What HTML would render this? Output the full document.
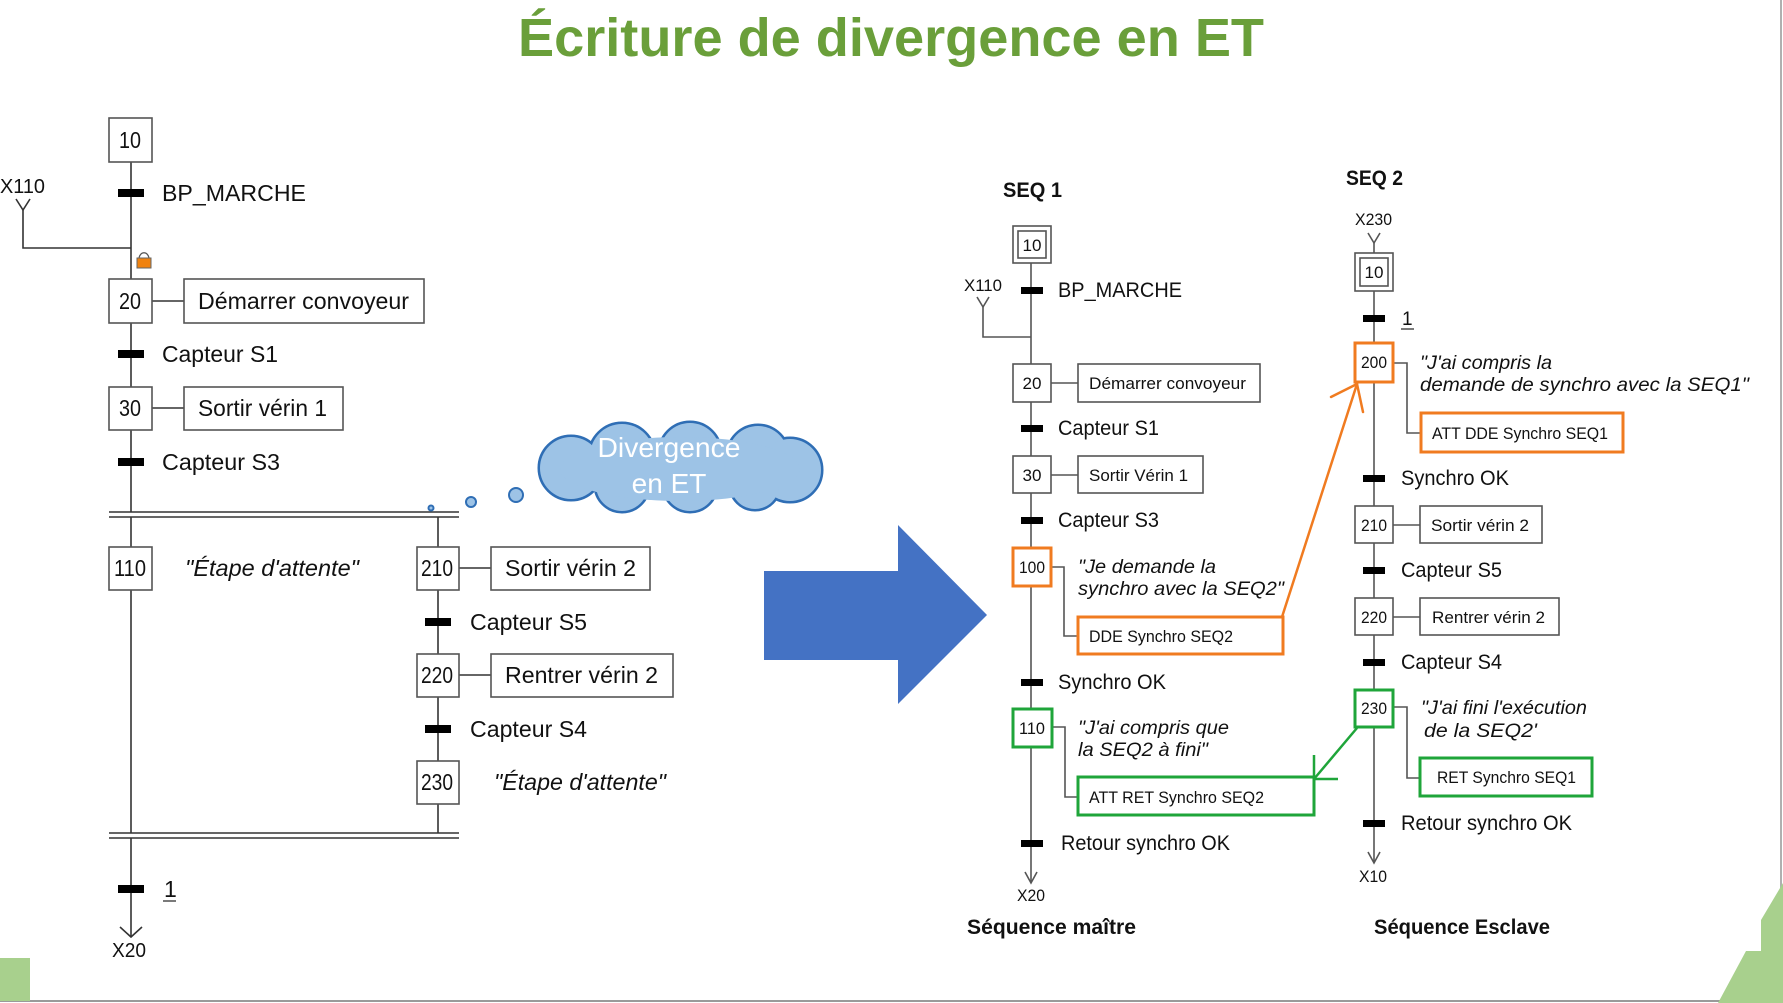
<!DOCTYPE html>
<html><head><meta charset="utf-8"><style>
html,body{margin:0;padding:0;background:#fff;}
svg{display:block;}
text{font-family:"Liberation Sans",Arial,sans-serif;fill:#111;}
.it{font-style:italic;}
.b{font-weight:bold;}
</style></head><body>
<svg width="1783" height="1003" viewBox="0 0 1783 1003" xmlns="http://www.w3.org/2000/svg">
<rect width="1783" height="1003" fill="#fff"/>
<!-- Title -->
<text x="891" y="56" font-size="54" class="b" text-anchor="middle" style="fill:#6a9f3a" textLength="746" lengthAdjust="spacingAndGlyphs">Écriture de divergence en ET</text>

<!-- borders / decorations -->
<line x1="0" y1="1001" x2="1783" y2="1001" stroke="#9a9a9a" stroke-width="2"/>
<line x1="1781" y1="0" x2="1781" y2="1003" stroke="#b0b0b0" stroke-width="2"/>
<rect x="0" y="958" width="30" height="43" fill="#a8d08d"/>
<polygon points="1783,883 1761,920 1761,951 1746,951 1718,1003 1783,1003" fill="#a8d08d"/>

<!-- ===== LEFT GRAFCET ===== -->
<g stroke="#333" stroke-width="1.6" fill="none">
  <line x1="131" y1="162" x2="131" y2="512"/>
  <line x1="131" y1="517" x2="131" y2="833"/>
  <line x1="438" y1="517" x2="438" y2="833"/>
  <line x1="131" y1="838" x2="131" y2="937"/>
  <polyline points="120,927 131,937 142,927"/>
  <line x1="109" y1="512" x2="459" y2="512"/>
  <line x1="109" y1="517" x2="459" y2="517"/>
  <line x1="109" y1="833" x2="459" y2="833"/>
  <line x1="109" y1="838" x2="459" y2="838"/>
  <polyline points="16,199 23,210 30,199"/>
  <polyline points="23,210 23,248 131,248"/>
  <line x1="152" y1="301" x2="184" y2="301"/>
  <line x1="152" y1="408" x2="184" y2="408"/>
  <line x1="459" y1="568" x2="491" y2="568"/>
  <line x1="459" y1="675" x2="491" y2="675"/>
</g>
<g stroke="#555" stroke-width="1.6" fill="#fff">
  <rect x="109" y="118" width="43" height="44"/>
  <rect x="109" y="279" width="43" height="44"/>
  <rect x="109" y="387" width="43" height="43"/>
  <rect x="109" y="547" width="43" height="43"/>
  <rect x="417" y="547" width="42" height="43"/>
  <rect x="417" y="654" width="42" height="43"/>
  <rect x="417" y="761" width="42" height="43"/>
  <rect x="184" y="279" width="240" height="44"/>
  <rect x="184" y="387" width="159" height="43"/>
  <rect x="491" y="547" width="159" height="43"/>
  <rect x="491" y="654" width="182" height="43"/>
</g>
<g fill="#000">
  <rect x="118" y="189" width="26" height="8"/>
  <rect x="118" y="350" width="26" height="8"/>
  <rect x="118" y="458" width="26" height="8"/>
  <rect x="425" y="618" width="26" height="8"/>
  <rect x="425" y="725" width="26" height="8"/>
  <rect x="118" y="885" width="26" height="8"/>
</g>
<!-- lock icon -->
<path d="M139,259 a4,5 0 0 1 10,0" fill="none" stroke="#555" stroke-width="1.2"/>
<rect x="137" y="258" width="14" height="10" fill="#f0820f" stroke="#666" stroke-width="1"/>

<g font-size="23">
  <text x="119" y="148" textLength="22" lengthAdjust="spacingAndGlyphs">10</text>
  <text x="119" y="309" textLength="22" lengthAdjust="spacingAndGlyphs">20</text>
  <text x="119" y="416" textLength="22" lengthAdjust="spacingAndGlyphs">30</text>
  <text x="114" y="576" textLength="32" lengthAdjust="spacingAndGlyphs">110</text>
  <text x="421" y="576" textLength="32" lengthAdjust="spacingAndGlyphs">210</text>
  <text x="421" y="683" textLength="32" lengthAdjust="spacingAndGlyphs">220</text>
  <text x="421" y="790" textLength="32" lengthAdjust="spacingAndGlyphs">230</text>
  <text x="162" y="201" textLength="144" lengthAdjust="spacingAndGlyphs">BP_MARCHE</text>
  <text x="198" y="309" textLength="211" lengthAdjust="spacingAndGlyphs">Démarrer convoyeur</text>
  <text x="162" y="362" textLength="116" lengthAdjust="spacingAndGlyphs">Capteur S1</text>
  <text x="198" y="416" textLength="129" lengthAdjust="spacingAndGlyphs">Sortir vérin 1</text>
  <text x="162" y="470" textLength="118" lengthAdjust="spacingAndGlyphs">Capteur S3</text>
  <text x="185" y="576" class="it" textLength="174" lengthAdjust="spacingAndGlyphs">"Étape d'attente"</text>
  <text x="505" y="576" textLength="131" lengthAdjust="spacingAndGlyphs">Sortir vérin 2</text>
  <text x="470" y="630" textLength="117" lengthAdjust="spacingAndGlyphs">Capteur S5</text>
  <text x="505" y="683" textLength="153" lengthAdjust="spacingAndGlyphs">Rentrer vérin 2</text>
  <text x="470" y="737" textLength="117" lengthAdjust="spacingAndGlyphs">Capteur S4</text>
  <text x="494" y="790" class="it" textLength="172" lengthAdjust="spacingAndGlyphs">"Étape d'attente"</text>
  <text x="164" y="897">1</text>
</g>
<line x1="163" y1="901" x2="176" y2="901" stroke="#333" stroke-width="1.3"/>
<text x="0" y="193" font-size="20" textLength="45" lengthAdjust="spacingAndGlyphs">X110</text>
<text x="112" y="957" font-size="20" textLength="34" lengthAdjust="spacingAndGlyphs">X20</text>

<!-- cloud -->
<g stroke="#2f6eb5" stroke-width="3" fill="#9dc3e6">
  <circle cx="571" cy="468" r="32"/>
  <circle cx="622" cy="456" r="33"/>
  <circle cx="690" cy="453" r="31"/>
  <circle cx="758" cy="456" r="31"/>
  <circle cx="790" cy="470" r="32"/>
  <circle cx="622" cy="485" r="27"/>
  <circle cx="690" cy="485" r="27"/>
  <circle cx="755" cy="485" r="25"/>
</g>
<g fill="#9dc3e6">
  <circle cx="571" cy="468" r="31"/>
  <circle cx="622" cy="456" r="32"/>
  <circle cx="690" cy="453" r="30"/>
  <circle cx="758" cy="456" r="30"/>
  <circle cx="790" cy="470" r="31"/>
  <circle cx="622" cy="485" r="26"/>
  <circle cx="690" cy="485" r="26"/>
  <circle cx="755" cy="485" r="24"/>
  <ellipse cx="680" cy="469" rx="120" ry="32"/>
</g>
<g fill="#9dc3e6" stroke="#2f6eb5" stroke-width="2">
  <circle cx="516" cy="495" r="7"/>
  <circle cx="471" cy="502" r="5"/>
  <circle cx="431" cy="508" r="2.5"/>
</g>
<text x="669" y="457" font-size="28" text-anchor="middle" style="fill:#fff" textLength="143" lengthAdjust="spacingAndGlyphs">Divergence</text>
<text x="669" y="493" font-size="28" text-anchor="middle" style="fill:#fff">en ET</text>

<!-- big blue arrow -->
<polygon points="764,571 898,571 898,525 987,615 898,704 898,660 764,660" fill="#4472c4"/>

<!-- ===== SEQ 1 ===== -->
<text x="1003" y="197" font-size="21" class="b" textLength="59" lengthAdjust="spacingAndGlyphs">SEQ 1</text>
<g stroke="#555" stroke-width="1.6" fill="none">
  <line x1="1031" y1="263" x2="1031" y2="883"/>
  <polyline points="1025,872 1031,883 1037,872"/>
  <polyline points="977,297 983,307 989,297"/>
  <polyline points="983,307 983,337 1031,337"/>
  <line x1="1051" y1="383" x2="1078" y2="383"/>
  <line x1="1051" y1="475" x2="1078" y2="475"/>
  <polyline points="1051,567 1064,567 1064,636 1078,636"/>
  <polyline points="1052,727 1065,727 1065,797 1078,797"/>
</g>
<g stroke="#555" stroke-width="1.6" fill="#fff">
  <rect x="1013" y="226" width="38" height="37"/>
  <rect x="1018" y="231" width="28" height="27"/>
  <rect x="1013" y="364" width="38" height="38"/>
  <rect x="1013" y="456" width="38" height="37"/>
  <rect x="1078" y="364" width="182" height="38"/>
  <rect x="1078" y="456" width="125" height="37"/>
</g>
<rect x="1013" y="548" width="38" height="38" fill="#fff" stroke="#f07b20" stroke-width="3"/>
<rect x="1078" y="617" width="205" height="37" fill="#fff" stroke="#f07b20" stroke-width="3"/>
<rect x="1013" y="709" width="39" height="38" fill="#fff" stroke="#1fa53a" stroke-width="3"/>
<rect x="1078" y="777" width="236" height="38" fill="#fff" stroke="#1fa53a" stroke-width="3"/>
<g fill="#000">
  <rect x="1021" y="287" width="22" height="7"/>
  <rect x="1021" y="425" width="22" height="7"/>
  <rect x="1021" y="517" width="22" height="7"/>
  <rect x="1021" y="679" width="22" height="7"/>
  <rect x="1021" y="840" width="22" height="7"/>
</g>
<g font-size="17" style="fill:#222">
  <text x="1032" y="251" text-anchor="middle" textLength="19" lengthAdjust="spacingAndGlyphs">10</text>
  <text x="1032" y="389" text-anchor="middle" textLength="19" lengthAdjust="spacingAndGlyphs">20</text>
  <text x="1032" y="481" text-anchor="middle" textLength="19" lengthAdjust="spacingAndGlyphs">30</text>
  <text x="1032" y="573" text-anchor="middle" textLength="26" lengthAdjust="spacingAndGlyphs">100</text>
  <text x="1032" y="734" text-anchor="middle" textLength="26" lengthAdjust="spacingAndGlyphs">110</text>
  <text x="964" y="291" textLength="38" lengthAdjust="spacingAndGlyphs">X110</text>
  <text x="1017" y="901" textLength="28" lengthAdjust="spacingAndGlyphs">X20</text>
  <text x="1089" y="389" textLength="157" lengthAdjust="spacingAndGlyphs">Démarrer convoyeur</text>
  <text x="1089" y="481" textLength="99" lengthAdjust="spacingAndGlyphs">Sortir Vérin 1</text>
  <text x="1089" y="642" textLength="144" lengthAdjust="spacingAndGlyphs">DDE Synchro  SEQ2</text>
  <text x="1089" y="803" textLength="175" lengthAdjust="spacingAndGlyphs">ATT RET Synchro  SEQ2</text>
</g>
<g font-size="21" style="fill:#222">
  <text x="1058" y="297" textLength="124" lengthAdjust="spacingAndGlyphs">BP_MARCHE</text>
  <text x="1058" y="435" textLength="101" lengthAdjust="spacingAndGlyphs">Capteur S1</text>
  <text x="1058" y="527" textLength="101" lengthAdjust="spacingAndGlyphs">Capteur S3</text>
  <text x="1058" y="689" textLength="108" lengthAdjust="spacingAndGlyphs">Synchro OK</text>
  <text x="1061" y="850" textLength="169" lengthAdjust="spacingAndGlyphs">Retour synchro OK</text>
</g>
<g font-size="19" style="fill:#333">
  <text x="1078" y="573" class="it" textLength="138" lengthAdjust="spacingAndGlyphs">"Je demande la</text>
  <text x="1078" y="595" class="it" textLength="206" lengthAdjust="spacingAndGlyphs">synchro avec la SEQ2"</text>
  <text x="1078" y="734" class="it" textLength="151" lengthAdjust="spacingAndGlyphs">"J'ai compris que</text>
  <text x="1078" y="756" class="it" textLength="130" lengthAdjust="spacingAndGlyphs">la SEQ2 à fini"</text>
</g>
<text x="967" y="934" font-size="21" class="b" textLength="169" lengthAdjust="spacingAndGlyphs">Séquence maître</text>

<!-- ===== SEQ 2 ===== -->
<text x="1346" y="185" font-size="21" class="b" textLength="57" lengthAdjust="spacingAndGlyphs">SEQ 2</text>
<g stroke="#555" stroke-width="1.6" fill="none">
  <line x1="1374" y1="243" x2="1374" y2="863"/>
  <polyline points="1368,852 1374,863 1380,852"/>
  <polyline points="1368,233 1374,243 1380,233"/>
  <polyline points="1393,363 1407,363 1407,433 1421,433"/>
  <line x1="1393" y1="525" x2="1420" y2="525"/>
  <line x1="1393" y1="617" x2="1420" y2="617"/>
  <polyline points="1393,707 1407,707 1407,778 1420,778"/>
</g>
<g stroke="#555" stroke-width="1.6" fill="#fff">
  <rect x="1355" y="253" width="38" height="38"/>
  <rect x="1360" y="258" width="28" height="28"/>
  <rect x="1355" y="506" width="38" height="37"/>
  <rect x="1355" y="598" width="38" height="37"/>
  <rect x="1420" y="506" width="122" height="37"/>
  <rect x="1420" y="598" width="139" height="37"/>
</g>
<rect x="1355" y="343" width="38" height="39" fill="#fff" stroke="#f07b20" stroke-width="3"/>
<rect x="1421" y="413" width="202" height="39" fill="#fff" stroke="#f07b20" stroke-width="3"/>
<rect x="1355" y="690" width="38" height="37" fill="#fff" stroke="#1fa53a" stroke-width="3"/>
<rect x="1420" y="758" width="172" height="38" fill="#fff" stroke="#1fa53a" stroke-width="3"/>
<g fill="#000">
  <rect x="1363" y="315" width="22" height="7"/>
  <rect x="1363" y="475" width="22" height="7"/>
  <rect x="1363" y="567" width="22" height="7"/>
  <rect x="1363" y="659" width="22" height="7"/>
  <rect x="1363" y="820" width="22" height="7"/>
</g>
<g font-size="17" style="fill:#222">
  <text x="1374" y="278" text-anchor="middle" textLength="19" lengthAdjust="spacingAndGlyphs">10</text>
  <text x="1374" y="368" text-anchor="middle" textLength="26" lengthAdjust="spacingAndGlyphs">200</text>
  <text x="1374" y="531" text-anchor="middle" textLength="26" lengthAdjust="spacingAndGlyphs">210</text>
  <text x="1374" y="623" text-anchor="middle" textLength="26" lengthAdjust="spacingAndGlyphs">220</text>
  <text x="1374" y="714" text-anchor="middle" textLength="26" lengthAdjust="spacingAndGlyphs">230</text>
  <text x="1355" y="225" textLength="37" lengthAdjust="spacingAndGlyphs">X230</text>
  <text x="1359" y="882" textLength="28" lengthAdjust="spacingAndGlyphs">X10</text>
  <text x="1432" y="439" textLength="176" lengthAdjust="spacingAndGlyphs">ATT DDE Synchro  SEQ1</text>
  <text x="1431" y="531" textLength="98" lengthAdjust="spacingAndGlyphs">Sortir vérin 2</text>
  <text x="1432" y="623" textLength="113" lengthAdjust="spacingAndGlyphs">Rentrer vérin 2</text>
  <text x="1437" y="783" textLength="139" lengthAdjust="spacingAndGlyphs">RET Synchro SEQ1</text>
</g>
<g font-size="21" style="fill:#222">
  <text x="1402" y="325" font-size="19">1</text>
  <text x="1401" y="485" textLength="108" lengthAdjust="spacingAndGlyphs">Synchro OK</text>
  <text x="1401" y="577" textLength="101" lengthAdjust="spacingAndGlyphs">Capteur S5</text>
  <text x="1401" y="669" textLength="101" lengthAdjust="spacingAndGlyphs">Capteur S4</text>
  <text x="1401" y="830" textLength="171" lengthAdjust="spacingAndGlyphs">Retour synchro OK</text>
</g>
<line x1="1401" y1="329" x2="1414" y2="329" stroke="#333" stroke-width="1.3"/>
<g font-size="19" style="fill:#333">
  <text x="1420" y="369" class="it" textLength="132" lengthAdjust="spacingAndGlyphs">"J'ai compris la</text>
  <text x="1420" y="391" class="it" textLength="329" lengthAdjust="spacingAndGlyphs">demande de synchro  avec la SEQ1"</text>
  <text x="1421" y="714" class="it" textLength="166" lengthAdjust="spacingAndGlyphs">"J'ai fini l'exécution</text>
  <text x="1424" y="737" class="it" textLength="113" lengthAdjust="spacingAndGlyphs">de la SEQ2'</text>
</g>
<text x="1374" y="934" font-size="21" class="b" textLength="176" lengthAdjust="spacingAndGlyphs">Séquence Esclave</text>

<!-- synchro arrows -->
<g stroke="#f07b20" stroke-width="2.5" fill="none" stroke-linecap="round">
  <line x1="1282" y1="617" x2="1357" y2="384"/>
  <polyline points="1331,397 1357,384 1363,412"/>
</g>
<g stroke="#1fa53a" stroke-width="2.5" fill="none">
  <line x1="1357" y1="728" x2="1314" y2="779"/>
  <polyline points="1314,755 1314,779 1338,779"/>
</g>
</svg>
</body></html>
